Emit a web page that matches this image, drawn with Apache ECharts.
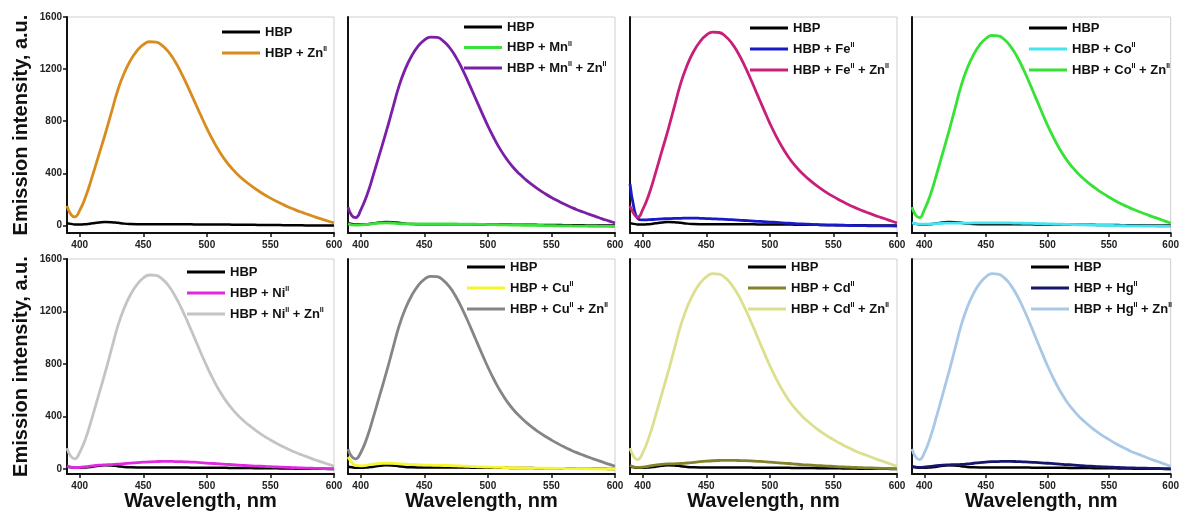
<!DOCTYPE html>
<html><head><meta charset="utf-8">
<script src="https://cdn.jsdelivr.net/npm/echarts@6/dist/echarts.min.js"></script>
<style>html,body{margin:0;padding:0;background:#fff}#c{width:1182px;height:514px}</style>
</head><body><div id="c"></div>
<script>
// ---- data ----
const wavelengths = [390,393,396,400,405,410,415,420,425,430,435,440,445,450,455,460,465,470,475,480,485,490,495,500,
  505,510,515,520,525,530,535,540,545,550,555,560,565,570,575,580,585,590,595,600];
const xTicks = [400,450,500,550,600];
const yTicks = [0,400,800,1200,1600];

const hbp    = [16,12,8,7,10,16,22,26,25,20,14,11,10,10,10,10,10,10,9,9,9,8,8,8,
  8,7,7,6,6,5,5,4,4,3,3,2,2,1,1,0,0,0,-1,-1];

const znOnly = [150,85,66,115,230,380,540,700,870,1040,1170,1268,1340,1388,1410,1407,1380,1330,1258,1168,1066,958,850,745,
  650,566,494,434,384,341,303,269,238,210,184,160,138,118,100,83,66,50,34,20];

const mnOnly = [12,5,2,4,8,14,18,20,18,14,12,12,12,12,12,12,12,11,11,10,10,9,8,7,
  6,5,4,3,2,1,0,0,-1,-2,-3,-4,-4,-5,-5,-6,-6,-7,-7,-8];
const mnZn   = [140,75,60,118,236,390,553,718,892,1066,1200,1300,1374,1423,1446,1443,1415,1364,1290,1198,1093,982,872,764,
  667,580,507,445,394,350,311,276,244,215,189,164,142,121,103,85,68,51,35,19];

const feOnly = [318,140,55,42,44,47,50,52,54,55,56,56,55,53,51,49,47,44,41,38,35,32,29,26,
  23,20,17,14,11,9,7,5,3,2,1,0,-1,-2,-2,-3,-3,-4,-4,-5];
const feZn   = [150,90,62,121,242,400,568,736,915,1095,1231,1335,1410,1461,1484,1481,1452,1400,1324,1229,1122,1008,895,784,
  684,596,520,457,404,359,319,283,250,221,194,168,145,124,105,87,69,53,36,19];

const coOnly = [20,14,10,10,12,14,16,18,18,18,18,19,20,20,20,20,20,19,18,17,16,15,14,12,
  11,10,8,7,5,4,3,2,1,0,-1,-2,-3,-4,-4,-5,-5,-6,-6,-7];
const coZn   = [140,78,60,119,238,393,558,724,900,1075,1210,1311,1386,1435,1458,1455,1427,1375,1301,1208,1102,991,879,770,
  672,585,511,449,397,353,313,278,246,217,190,165,143,122,103,86,68,52,35,18];

const niOnly = [22,12,8,10,16,22,27,30,32,35,39,43,47,50,53,55,56,56,55,54,52,50,47,43,
  40,37,34,31,28,25,22,20,18,16,14,12,10,8,6,5,3,2,1,0];
const niZn   = [158,95,76,125,241,398,566,734,912,1090,1226,1329,1404,1455,1478,1475,1446,1394,1318,1224,1117,1004,891,781,
  681,593,518,455,402,357,318,282,249,220,193,168,145,124,105,87,69,52,36,19];

const cuOnly = [90,50,25,22,28,35,40,42,41,38,35,32,30,28,27,26,25,24,22,20,18,16,14,13,
  11,10,9,8,7,6,5,5,4,4,3,2,1,1,0,0,-1,-2,-2,-3];
const cuZn   = [150,92,76,122,239,396,562,729,906,1083,1218,1320,1395,1445,1468,1465,1437,1385,1310,1216,1110,997,885,776,
  677,589,514,452,400,355,315,280,248,219,192,167,144,123,104,86,69,52,35,19];

const cdOnly = [25,14,10,12,20,28,34,37,38,40,44,49,54,58,61,63,64,64,63,62,60,57,54,50,
  47,43,40,36,32,29,26,23,20,18,15,13,11,9,7,6,4,3,2,1];
const cdZn   = [157,92,70,121,243,401,570,739,918,1097,1234,1338,1414,1464,1488,1484,1456,1403,1327,1232,1125,1011,897,786,
  686,597,521,458,405,360,320,284,251,222,194,169,146,124,106,88,70,53,36,19];

const hgOnly = [18,12,10,12,18,24,28,30,31,33,37,42,47,51,54,55,56,56,55,53,51,48,45,42,
  39,36,32,29,25,22,19,17,15,13,11,9,7,6,5,4,3,2,1,0];
const hgZn   = [152,90,70,121,243,401,570,739,918,1097,1234,1338,1414,1464,1488,1484,1456,1403,1327,1232,1125,1011,897,786,
  686,597,521,458,405,360,320,284,251,222,194,169,146,124,106,88,70,53,36,19];

const yTitle = 'Emission intensity, a.u.';
const xTitle = 'Wavelength, nm';

// ---- panel setup ----
const panels = [
  {metal:null, only:null, zn:znOnly, cOnly:null, cZn:'#D98C1E', lgLeft:222, lgTop:25, gap:7},
  {metal:'Mn', only:mnOnly, zn:mnZn, cOnly:'#3BE03B', cZn:'#7A1FA6', lgLeft:464, lgTop:20, gap:6.5},
  {metal:'Fe', only:feOnly, zn:feZn, cOnly:'#1A1AC8', cZn:'#C8207A', lgLeft:750, lgTop:21, gap:7},
  {metal:'Co', only:coOnly, zn:coZn, cOnly:'#46E4F0', cZn:'#36E236', lgLeft:1029, lgTop:21, gap:7},
  {metal:'Ni', only:niOnly, zn:niZn, cOnly:'#E028E0', cZn:'#C4C4C4', lgLeft:187, lgTop:265, gap:7},
  {metal:'Cu', only:cuOnly, zn:cuZn, cOnly:'#F5F530', cZn:'#858585', lgLeft:467, lgTop:260, gap:7},
  {metal:'Cd', only:cdOnly, zn:cdZn, cOnly:'#82822A', cZn:'#DCE08E', lgLeft:748, lgTop:260, gap:7},
  {metal:'Hg', only:hgOnly, zn:hgZn, cOnly:'#16166E', cZn:'#A9C8E6', lgLeft:1031, lgTop:260, gap:7}
];
const colLeft = [67, 348, 630, 912];
const rowTop = [17, 259];
const rowH = [216, 215];
const rowMin = [-58, -40];
const FONT = '"Liberation Sans", Arial, sans-serif';

const grids = [], xAxes = [], yAxes = [], series = [], legends = [];
const toPts = arr => wavelengths.map((w, k) => [w, arr[k]]);

panels.forEach((p, i) => {
  const col = i % 4, row = Math.floor(i / 4);
  grids.push({left: colLeft[col], top: rowTop[row], width: 267, height: rowH[row],
    show: true, borderColor: '#cfcfcf', borderWidth: 1, backgroundColor: '#fff'});
  xAxes.push({type: 'value', gridIndex: i, min: 390, max: 600,
    axisLine: {show: true, onZero: false, lineStyle: {color: '#111', width: 2}},
    axisTick: {show: true, customValues: xTicks, length: 4, lineStyle: {color: '#111', width: 1.5}},
    axisLabel: {customValues: xTicks, formatter: v => String(v), fontFamily: FONT, fontWeight: 'bold', fontSize: 10, color: '#222', margin: 7},
    splitLine: {show: false},
    name: row === 1 ? xTitle : '', nameLocation: 'middle', nameGap: 17,
    nameTextStyle: {fontFamily: FONT, fontSize: 20, fontWeight: 'bold', color: '#111'}});
  yAxes.push({type: 'value', gridIndex: i, min: rowMin[row], max: 1600,
    axisLine: {show: true, onZero: false, lineStyle: {color: '#111', width: 2}},
    axisTick: {show: col === 0, customValues: yTicks, length: 4, lineStyle: {color: '#111', width: 1.5}},
    axisLabel: {show: col === 0, customValues: yTicks, formatter: v => String(v), fontFamily: FONT, fontWeight: 'bold', fontSize: 10, color: '#222', margin: 5},
    splitLine: {show: false},
    name: col === 0 ? yTitle : '', nameLocation: 'middle', nameGap: 36,
    nameTextStyle: {fontFamily: FONT, fontSize: 20, fontWeight: 'bold', color: '#111'}});

  const names = ['HBP'];
  const mk = (name, arr, color, w, z) => ({
    name, type: 'line', xAxisIndex: i, yAxisIndex: i, data: toPts(arr),
    showSymbol: false, symbol: 'none', smooth: 0.5,
    lineStyle: {color, width: w}, itemStyle: {color}, z, silent: true
  });
  series.push(mk('HBP', hbp, '#000', 2.5, 2));
  if (p.metal) {
    const n1 = 'HBP + ' + p.metal + '^II';
    names.push(n1);
    series.push(mk(n1, p.only, p.cOnly, 2.8, 3));
    const n2 = 'HBP + ' + p.metal + '^II + Zn^II';
    names.push(n2);
    series.push(mk(n2, p.zn, p.cZn, 2.8, 4));
  } else {
    const n2 = 'HBP + Zn^II';
    names.push(n2);
    series.push(mk(n2, p.zn, p.cZn, 2.8, 4));
  }
  legends.push({orient: 'vertical', left: p.lgLeft, top: p.lgTop, itemWidth: 38, itemHeight: 3,
    icon: 'rect', itemGap: p.gap, data: names, selectedMode: false, padding: 0,
    formatter: n => n.replace(/\^II/g, '{s|II}'),
    textStyle: {fontFamily: FONT, fontSize: 13, lineHeight: 14, fontWeight: 'bold', color: '#111',
      rich: {s: {fontFamily: FONT, fontSize: 7, fontWeight: 'bold', color: '#111', verticalAlign: 'top', padding: [0, 0, 8, 0]}}}});
});

const chart = echarts.init(document.getElementById('c'), null, {renderer: 'canvas'});
chart.setOption({animation: false, backgroundColor: '#fff',
  grid: grids, xAxis: xAxes, yAxis: yAxes, series, legend: legends});
</script></body></html>
